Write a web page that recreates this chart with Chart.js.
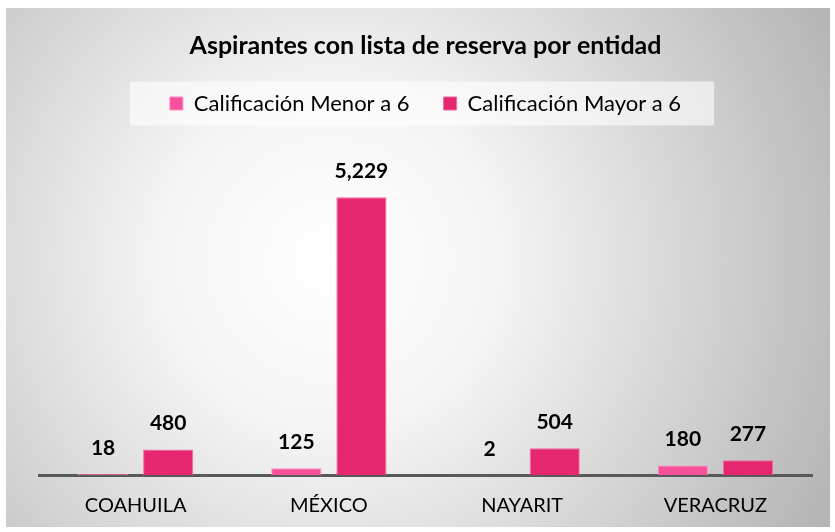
<!DOCTYPE html>
<html>
<head>
<meta charset="utf-8">
<script src="https://cdn.jsdelivr.net/npm/chart.js@4.4.0/dist/chart.umd.min.js"></script>
<style>
  html, body { margin: 0; padding: 0; background: #fff; overflow: hidden; }
  #c { display: block; }
</style>
</head>
<body>
<canvas id="c" width="835" height="532"></canvas>
<script>
// values
const states = ["COAHUILA", "MÉXICO", "NAYARIT", "VERACRUZ"];
const menorA6 = [18, 125, 2, 180];
const mayorA6 = [480, 5229, 504, 277];
const seriesNames = ["Calificación Menor a 6", "Calificación Mayor a 6"];
const yMax = 6600;

const FONT = "Lato, 'Open Sans', sans-serif";

// gray radial backdrop plus the pale panel behind the legend
const backdrop = {
  id: "backdrop",
  beforeDraw(chart) {
    const ctx = chart.ctx;
    ctx.save();
    ctx.fillStyle = "#fff";
    ctx.fillRect(0, 0, chart.width, chart.height);
    const g = ctx.createRadialGradient(330, 260, 0, 330, 260, 560);
    g.addColorStop(0, "#ffffff");
    g.addColorStop(0.3, "#f5f5f5");
    g.addColorStop(1, "#b4b4b4");
    ctx.fillStyle = g;
    ctx.fillRect(6, 8, 824, 519);
    const lg = chart.legend;
    if (lg && lg.legendHitBoxes.length) {
      const hb = lg.legendHitBoxes;
      const last = hb[hb.length - 1];
      const x0 = hb[0].left - 40;
      const x1 = last.left + last.width + 33;
      const yc = hb[0].top + hb[0].height / 2;
      ctx.fillStyle = "rgba(255,255,255,0.6)";
      ctx.fillRect(x0, yc - 22, x1 - x0, 44);
    }
    ctx.restore();
  },
};

// bold value labels above every bar
const valueLabels = {
  id: "valueLabels",
  afterDatasetsDraw(chart) {
    const ctx = chart.ctx;
    ctx.save();
    ctx.font = "bold 21px " + FONT;
    ctx.fillStyle = "#000";
    ctx.textAlign = "center";
    ctx.textBaseline = "middle";
    chart.data.datasets.forEach((ds, i) => {
      chart.getDatasetMeta(i).data.forEach((bar, j) => {
        ctx.fillText(ds.data[j].toLocaleString("en-US"), bar.x, bar.y - 26);
      });
    });
    ctx.restore();
  },
};

new Chart(document.getElementById("c"), {
  type: "bar",
  data: {
    labels: states,
    datasets: [
      {
        label: seriesNames[0],
        data: menorA6,
        backgroundColor: "#F7509B",
        borderColor: "#FF8EBE",
        borderWidth: 1,
      },
      {
        label: seriesNames[1],
        data: mayorA6,
        backgroundColor: "#E6276F",
        borderColor: "#F26A9D",
        borderWidth: 1,
      },
    ],
  },
  options: {
    responsive: false,
    animation: false,
    categoryPercentage: 0.674,
    barPercentage: 0.77,
    layout: { padding: { left: 39, right: 23, top: 8, bottom: -5 } },
    plugins: {
      title: {
        display: true,
        text: "Aspirantes con lista de reserva por entidad",
        color: "#000",
        font: { family: FONT, size: 25, weight: "bold", lineHeight: 1 },
        padding: { top: 25.5, bottom: 0 },
      },
      legend: {
        display: true,
        labels: {
          color: "#000",
          boxWidth: 13,
          boxHeight: 13,
          padding: 34,
          font: { family: FONT, size: 22 },
        },
      },
      tooltip: { enabled: false },
    },
    scales: {
      x: {
        grid: { display: false, drawTicks: false },
        border: { display: true, color: "#595959", width: 3 },
        ticks: { color: "#000", padding: 19, font: { family: FONT, size: 20 } },
      },
      y: {
        display: false,
        min: 0,
        max: yMax,
      },
    },
  },
  plugins: [backdrop, valueLabels],
});
</script>
</body>
</html>
